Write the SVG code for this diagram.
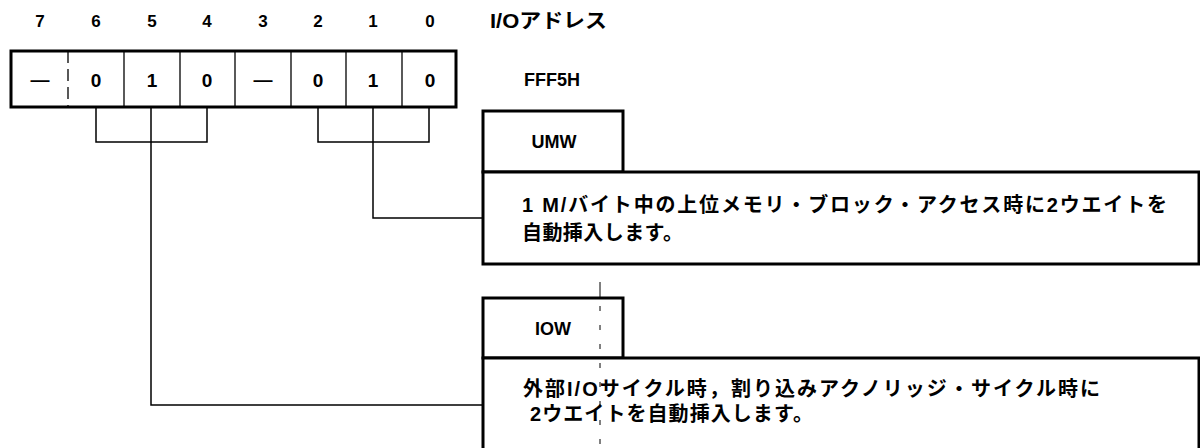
<svg xmlns="http://www.w3.org/2000/svg" width="1200" height="448" viewBox="0 0 1200 448">
<style>
.bg{fill:#fff}
.num{font-family:"Liberation Sans",Arial,sans-serif;font-weight:bold;font-size:17px;fill:#000;text-anchor:middle}
.val{font-family:"Liberation Sans",Arial,sans-serif;font-weight:bold;font-size:19px;fill:#000;text-anchor:middle}
.lbl{font-family:"Liberation Sans",Arial,sans-serif;font-weight:bold;font-size:18px;fill:#000;text-anchor:middle}
.jp{font-family:"Liberation Sans","Noto Sans CJK JP",sans-serif;font-weight:bold;font-size:20px;fill:#000}
.box{fill:#fff;stroke:#000;stroke-width:3}
.div{stroke:#000;stroke-width:1.3;fill:none}
.wire{stroke:#000;stroke-width:1.5;fill:none}
.fold{stroke:#000;stroke-width:1;fill:none}
</style>
<rect class="bg" x="0" y="0" width="1200" height="448"/>

<g id="bit-numbers">
<text class="num" x="40" y="27">7</text>
<text class="num" x="96" y="27">6</text>
<text class="num" x="152" y="27">5</text>
<text class="num" x="207" y="27">4</text>
<text class="num" x="263" y="27">3</text>
<text class="num" x="318" y="27">2</text>
<text class="num" x="373" y="27">1</text>
<text class="num" x="430" y="27">0</text>
<text class="jp" x="490" y="28" font-size="17" textLength="117" lengthAdjust="spacingAndGlyphs">I/Oアドレス</text>
</g>

<g id="register">
<rect class="box" x="11" y="51" width="445" height="56"/>
<line class="div" x1="68" y1="51" x2="68" y2="107" stroke-dasharray="12 6"/>
<line class="div" x1="124" y1="51" x2="124" y2="107"/>
<line class="div" x1="180" y1="51" x2="180" y2="107"/>
<line class="div" x1="235" y1="51" x2="235" y2="107"/>
<line class="div" x1="291" y1="51" x2="291" y2="107"/>
<line class="div" x1="346" y1="51" x2="346" y2="107"/>
<line class="div" x1="402" y1="51" x2="402" y2="107"/>
<text class="val" x="40" y="86" font-size="16">—</text>
<text class="val" x="96" y="87">0</text>
<text class="val" x="152" y="87">1</text>
<text class="val" x="207" y="87">0</text>
<text class="val" x="263" y="86" font-size="16">—</text>
<text class="val" x="318" y="87">0</text>
<text class="val" x="373" y="87">1</text>
<text class="val" x="430" y="87">0</text>
<text class="lbl" x="552" y="86" font-size="17">FFF5H</text>
</g>

<g id="connectors">
<polyline class="wire" points="96,107 96,142 207,142 207,107"/>
<polyline class="wire" points="151,107 151,405 483,405"/>
<polyline class="wire" points="318,107 318,142 429,142 429,107"/>
<polyline class="wire" points="373,107 373,218 483,218"/>
</g>

<g id="umw">
<rect class="box" x="483" y="111" width="140" height="61"/>
<text class="lbl" x="554" y="148">UMW</text>
<rect class="box" x="483" y="172" width="716" height="92"/>
<text class="jp" x="522" y="212" textLength="645" lengthAdjust="spacing">1 M/バイト中の上位メモリ・ブロック・アクセス時に2ウエイトを</text>
<text class="jp" x="522" y="240" textLength="161" lengthAdjust="spacing">自動挿入します。</text>
</g>

<g id="iow">
<rect class="box" x="483" y="298" width="140" height="60"/>
<text class="lbl" x="553" y="335">IOW</text>
<rect class="box" x="483" y="358" width="716" height="96"/>
<text class="jp" x="523" y="396" textLength="577" lengthAdjust="spacing">外部I/Oサイクル時，割り込みアクノリッジ・サイクル時に</text>
<text class="jp" x="530" y="421" textLength="283" lengthAdjust="spacing">2ウエイトを自動挿入します。</text>
</g>

<g id="fold-mark">
<line class="fold" x1="600" y1="282" x2="600" y2="298"/>
<line class="fold" x1="600" y1="306" x2="600" y2="448" stroke-dasharray="5 14"/>
</g>
</svg>
